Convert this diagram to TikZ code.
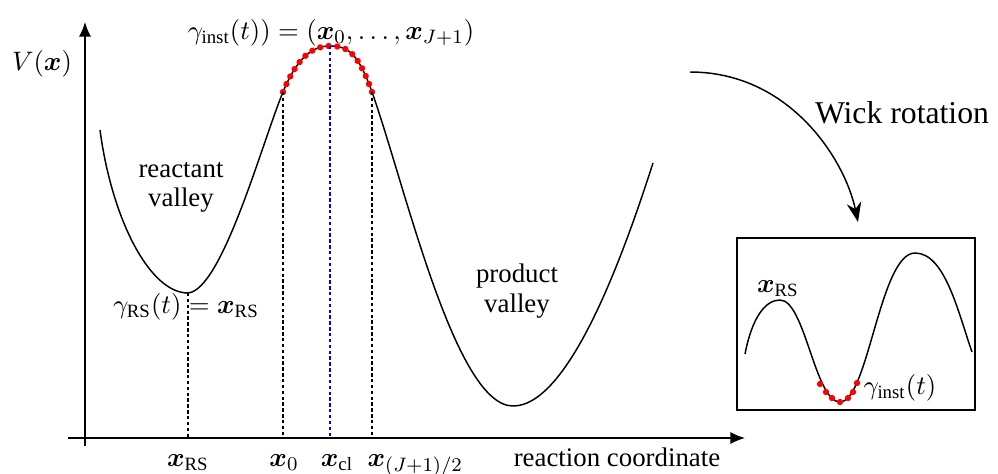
\documentclass[tikz,border=0pt]{standalone}
\usepackage{amsmath}
\usepackage{fontspec}
\setmainfont{Liberation Serif}
\usetikzlibrary{arrows.meta,decorations.markings}

\tikzset{
  axis/.style={line width=0.6pt, -{Latex[length=6pt,width=5pt]}},
  curve/.style={line width=0.6pt},
  guide/.style={line width=0.45pt, dash pattern=on 1.4pt off 1pt},
  pathdots/.style={postaction=decorate, decoration={markings,
      mark=between positions 0 and 1 step 0.0625 with {\fill[red] (0,0) circle (1.3pt);}}},
}

\begin{document}
\begin{tikzpicture}[x=0.0144cm, y=-0.0144cm, font=\fontsize{11}{12}\selectfont]
\useasboundingbox (0,0) rectangle (998,473);

% axes
\coordinate (o) at (85,438);
\coordinate (xstart) at (68,438);
\coordinate (xend) at (745,438);
\coordinate (ybot) at (85,446);
\coordinate (ytop) at (85,22);
\draw[axis] (xstart) -- (xend);
\draw[axis] (ybot) -- (ytop);
\node[anchor=base] (vlabel) at (42,70) {$V(\boldsymbol{x})$};

% potential curve
\coordinate (rs) at (188,293);
\coordinate (x0) at (283,92);
\coordinate (cl) at (330,46);
\coordinate (xj) at (372,92);
\coordinate (pmin) at (513,406);
\draw[curve] (100,130) .. controls (112,220) and (150,293) .. (rs)
  .. controls (222,290) and (262,143) .. (x0);
\draw[curve] (xj) .. controls (405,185) and (455,406) .. (pmin)
  .. controls (570,406) and (625,250) .. (653,163);
\draw[curve, pathdots] (x0) .. controls (297,58) and (312,46) .. (cl)
  .. controls (348,46) and (358,53) .. (xj);

% guides down to the axis
\draw[guide] (rs) -- (rs |- o);
\draw[guide] (x0) -- (x0 |- o);
\draw[guide, blue] (cl) -- (cl |- o);
\draw[guide] (xj) -- (xj |- o);

% labels
\node[anchor=base] (lrs) at (188,466) {$\boldsymbol{x}_{\mathrm{RS}}$};
\node[anchor=base] (lx0) at (284,466) {$\boldsymbol{x}_0$};
\node[anchor=base] (lcl) at (337,466) {$\boldsymbol{x}_{\mathrm{cl}}$};
\node[anchor=base west] (lxj) at (359,466) {$\boldsymbol{x}_{(J+1)/2}$};
\node[anchor=base] (rcoord) at (617,466) {reaction coordinate};
\node[anchor=base] (inst) at (331,39) {$\gamma_{\mathrm{inst}}(t)) = (\boldsymbol{x}_0, \ldots, \boldsymbol{x}_{J+1})$};
\node[anchor=base] (rslabel) at (186,313) {$\gamma_{\mathrm{RS}}(t) = \boldsymbol{x}_{\mathrm{RS}}$};
\node[align=center] (reactant) at (181,187) {reactant\\valley};
\node[align=center] (product) at (517,291) {product\\valley};

% Wick rotation
\coordinate (wstart) at (690,72);
\coordinate (wend) at (858,222);
\draw[curve, -{Stealth[length=8pt,width=6pt]}] (wstart) .. controls (790,72) and (845,160) .. (wend);
\node[anchor=base, font=\fontsize{13}{15}\selectfont] (wick) at (902,123) {Wick rotation};

% inverted potential
\draw[curve] (737,238) rectangle (975,410);
\coordinate (imin) at (840,402);
\draw[curve] (745,354) .. controls (752,318) and (765,300) .. (780,300)
  .. controls (805,300) and (815,402) .. (imin)
  .. controls (868,402) and (880,253) .. (915,253)
  .. controls (945,253) and (958,312) .. (972,352);
\foreach \px/\py in {820/384, 826/392, 832/398, 840/402, 848/398, 853/392, 857/383}
  \fill[red] (\px,\py) circle (1.3pt);
\node[anchor=base] (irs) at (778,292) {$\boldsymbol{x}_{\mathrm{RS}}$};
\node[anchor=base] (iinst) at (900,394) {$\gamma_{\mathrm{inst}}(t)$};
\end{tikzpicture}
\end{document}
